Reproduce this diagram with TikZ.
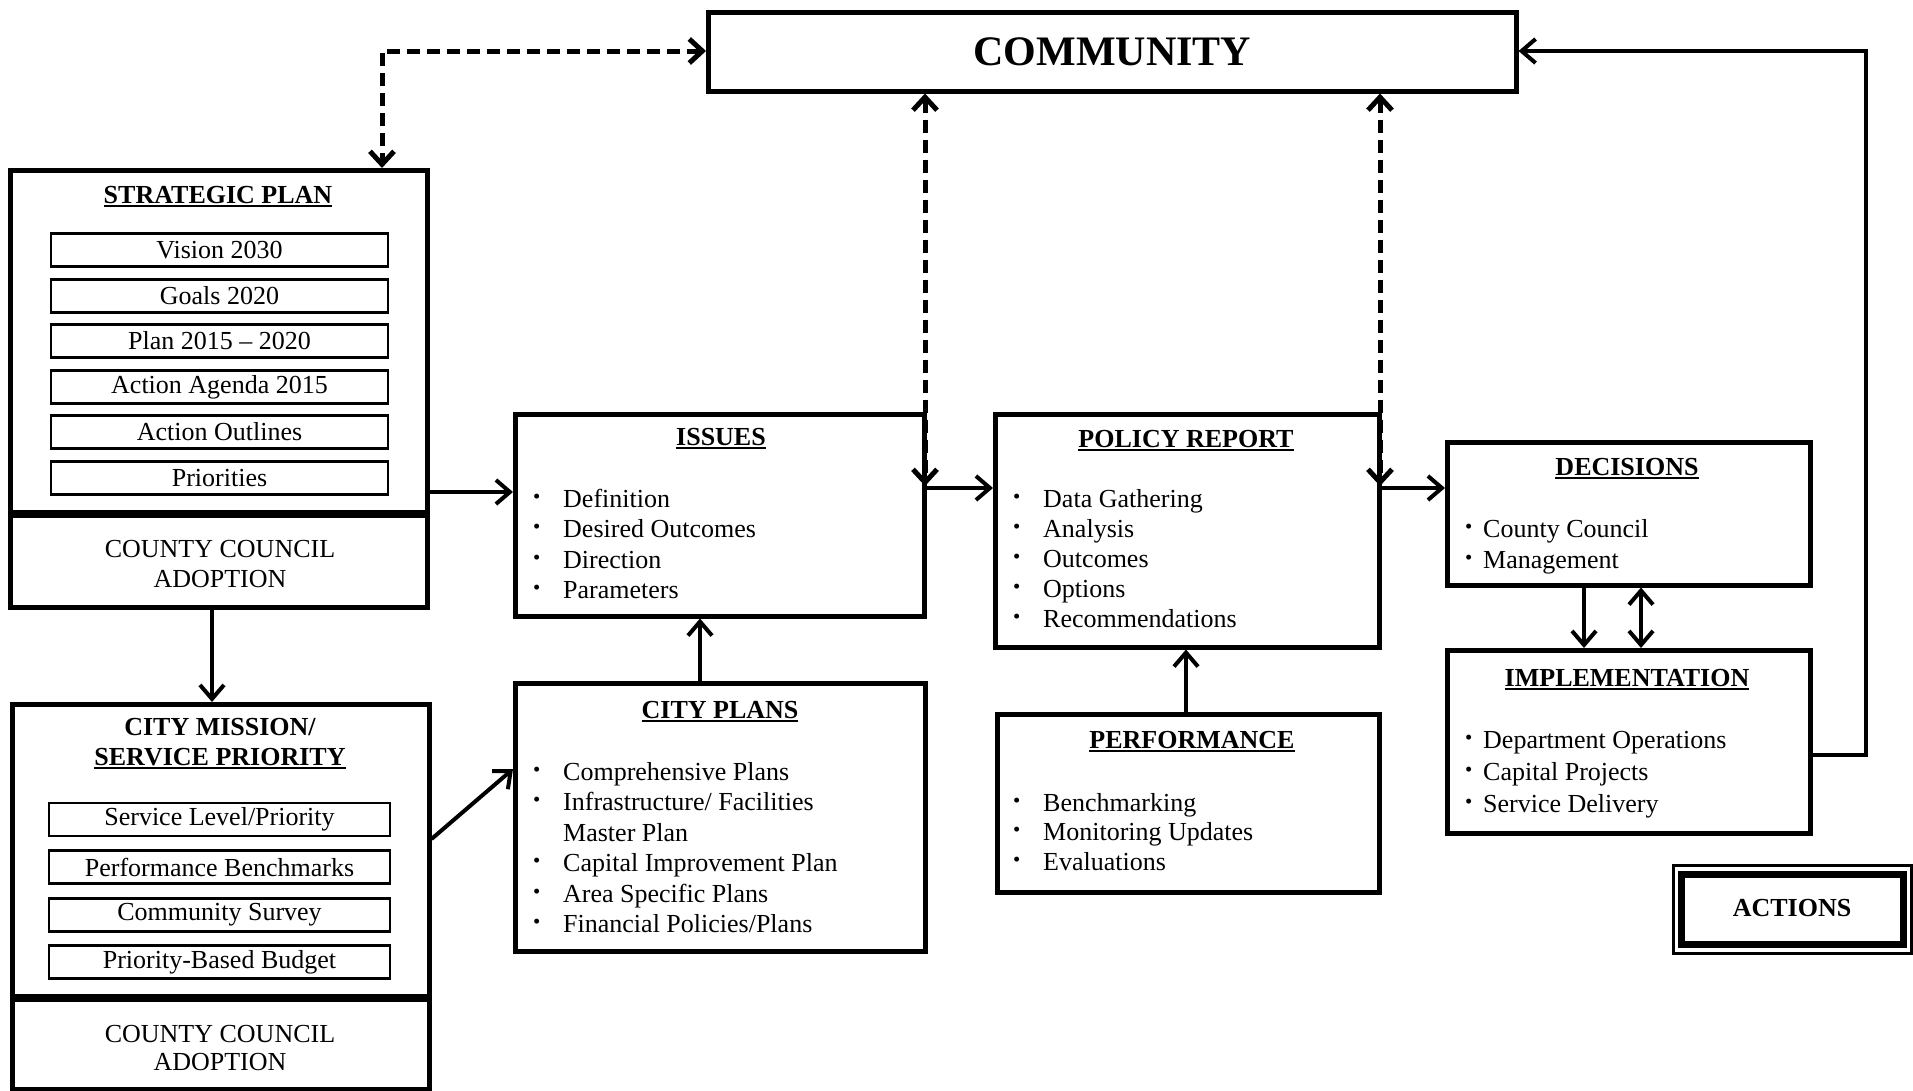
\documentclass[tikz,border=0pt]{standalone}
\usepackage{fontspec}
\setmainfont{Liberation Serif}
\usetikzlibrary{arrows.meta}
\newcommand\myul[1]{\setbox0\hbox{#1}\leavevmode\rlap{\rule[-4pt]{\wd0}{1.8pt}}\box0}
\newcommand\bul[1][30pt]{\makebox[#1][l]{\raisebox{4pt}{\scalebox{0.8}{\textbullet}}}}
\newcommand\nobul{\makebox[30pt][l]{}}
\begin{document}
\begin{tikzpicture}[x=1pt,y=-1pt,
  box/.style={draw, line width=4.5pt, inner sep=0pt, anchor=north west},
  sub/.style={draw, line width=2.5pt, inner sep=0pt, minimum height=33pt, font=\fontsize{26}{28}\selectfont},
  tit/.style={font=\fontsize{26}{29}\selectfont\bfseries, inner sep=0pt, anchor=base},
  txt/.style={font=\fontsize{26}{29}\selectfont, inner sep=0pt, anchor=base},
  itm/.style={font=\fontsize{26}{29}\selectfont, inner sep=0pt, anchor=base west},
  arr/.style={line width=4pt, -{Straight Barb[length=14pt,width=24pt]}},
  darr/.style={line width=4pt, {Straight Barb[length=14pt,width=24pt]}-{Straight Barb[length=14pt,width=24pt]}},
  dsh/.style={line width=5pt, dash pattern=on 13pt off 7pt, {Straight Barb[length=13pt,width=24pt]}-{Straight Barb[length=13pt,width=24pt]}}
]
\useasboundingbox (0,0) rectangle (1913,1090);

% COMMUNITY
\node[box, minimum width=808pt, minimum height=79pt] (comm) at (706,10) {};
\node[font=\fontsize{42}{44}\selectfont\bfseries, inner sep=0pt] (commt) at (comm.center) {COMMUNITY};

% STRATEGIC PLAN
\node[box, minimum width=417pt, minimum height=437pt] (sp) at (8,168) {};
\draw[line width=8pt] (sp.west |- 0,514) coordinate (spsepL) -- (sp.east |- 0,514) coordinate (spsepR);
\node[tit] (spt) at (218,203) {\myul{STRATEGIC PLAN}};
\foreach \t/\yy [count=\i] in {Vision 2030/250, Goals 2020/296, Plan 2015 -- 2020/341, Action Agenda 2015/387, Action Outlines/432, Priorities/478}
  \node[sub, minimum width=337pt] (sp\i) at (219.5,\yy) {\t};
\node[txt] (spc1) at (220,557) {COUNTY COUNCIL};
\node[txt] (spc2) at (220,587) {ADOPTION};

% CITY MISSION
\node[box, minimum width=417pt, minimum height=385pt] (cm) at (10,702) {};
\draw[line width=8pt] (cm.west |- 0,998) coordinate (cmsepL) -- (cm.east |- 0,998) coordinate (cmsepR);
\node[tit] (cmt1) at (220,735) {CITY MISSION/};
\node[tit] (cmt2) at (220,765) {\myul{SERVICE PRIORITY}};
\foreach \t/\yy [count=\i] in {{Service Level/Priority}/819.5, {Performance Benchmarks}/867, {Community Survey}/915, {Priority-Based Budget}/962}
  \node[sub, minimum width=341pt] (cm\i) at (219.5,\yy) {\t};
\node[txt] (cmc1) at (220,1042) {COUNTY COUNCIL};
\node[txt] (cmc2) at (220,1070) {ADOPTION};

% ISSUES
\node[box, minimum width=409pt, minimum height=202pt] (iss) at (513,412) {};
\node[tit] (isst) at (721,445) {\myul{ISSUES}};
\foreach \t [count=\i from 0] in {Definition, Desired Outcomes, Direction, Parameters}
  \node[itm] (iss\i) at (533,507+30.5*\i) {\bul\t};

% CITY PLANS
\node[box, minimum width=410pt, minimum height=268pt] (cp) at (513,681) {};
\node[tit] (cpt) at (720,718) {\myul{CITY PLANS}};
\foreach \t [count=\i from 0] in {\bul Comprehensive Plans, \bul Infrastructure/ Facilities, \nobul Master Plan, \bul Capital Improvement Plan, \bul Area Specific Plans, \bul Financial Policies/Plans}
  \node[itm] (cp\i) at (533,780+30.5*\i) {\t};

% POLICY REPORT
\node[box, minimum width=384pt, minimum height=233pt] (pol) at (993,412) {};
\node[tit] (polt) at (1186,447) {\myul{POLICY REPORT}};
\foreach \t [count=\i from 0] in {Data Gathering, Analysis, Outcomes, Options, Recommendations}
  \node[itm] (pol\i) at (1013,507+30.2*\i) {\bul\t};

% PERFORMANCE
\node[box, minimum width=382pt, minimum height=178pt] (perf) at (995,712) {};
\node[tit] (perft) at (1192,748) {\myul{PERFORMANCE}};
\foreach \t [count=\i from 0] in {Benchmarking, Monitoring Updates, Evaluations}
  \node[itm] (perf\i) at (1013,811+29.5*\i) {\bul\t};

% DECISIONS
\node[box, minimum width=363pt, minimum height=143pt] (dec) at (1445,440) {};
\node[tit] (dect) at (1627,475) {\myul{DECISIONS}};
\foreach \t [count=\i from 0] in {County Council, Management}
  \node[itm] (dec\i) at (1465,537+31.5*\i) {\bul[18pt]\t};

% IMPLEMENTATION
\node[box, minimum width=363pt, minimum height=183pt] (imp) at (1445,648) {};
\node[tit] (impt) at (1627,686) {\myul{IMPLEMENTATION}};
\foreach \t [count=\i from 0] in {Department Operations, Capital Projects, Service Delivery}
  \node[itm] (imp\i) at (1465,748+32.3*\i) {\bul[18pt]\t};

% ACTIONS
\node[draw, line width=3pt, inner sep=0pt, anchor=north west, minimum width=238pt, minimum height=88pt] (actO) at (1672,864) {};
\node[draw, line width=7pt, inner sep=0pt, minimum width=222pt, minimum height=70pt] (act) at (actO.center) {};
\node[tit] (actt) at (1792,916) {ACTIONS};

% solid connectors
\draw[arr] (sp.east |- 0,492) -- (iss.west |- 0,492);
\draw[arr] (sp.south -| 212,0) -- (cm.north -| 212,0);
\draw[arr] (cm.east |- 0,839) -- (cp.west |- 0,769);
\draw[arr] (cp.north -| 700,0) -- (iss.south -| 700,0);
\draw[arr] (iss.east |- 0,488) -- (pol.west |- 0,488);
\draw[arr] (perf.north -| 1186,0) -- (pol.south -| 1186,0);
\draw[arr] (pol.east |- 0,488) -- (dec.west |- 0,488);
\draw[arr] (dec.south -| 1584,0) -- (imp.north -| 1584,0);
\draw[darr] (dec.south -| 1641,0) -- (imp.north -| 1641,0);
\coordinate (fb1) at (1866,755);
\coordinate (fb2) at (1866,51);
\draw[arr] (imp.east |- fb1) -- (fb1) -- (fb2) -- (comm.east |- fb2);

% dashed connectors
\coordinate (dk) at (382,51);
\draw[dsh] (comm.west |- dk) -- (dk) -- (sp.north -| dk);
\coordinate (d1) at (925,486);
\draw[dsh] (comm.south -| d1) -- (d1);
\coordinate (d2) at (1380,486);
\draw[dsh] (comm.south -| d2) -- (d2);
\end{tikzpicture}
\end{document}
